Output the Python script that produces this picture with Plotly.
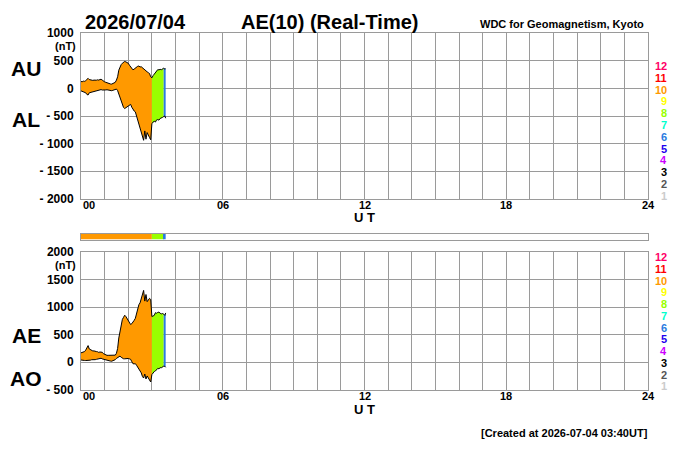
import plotly.graph_objects as go

# 3-minute samples, 00:00 to 03:33 UT, plus the last sample at 03:35
minutes = list(range(0, 214, 3)) + [215]

au = [125, 120, 132, 128, 140, 170, 182, 160, 150, 155,
      145, 150, 142, 148, 155, 150, 160, 165, 150, 130,
      118, 110, 100, 95, 90, 80, 78, 85, 95, 110,
      150, 210, 330, 400, 430, 455, 470, 488, 480, 465,
      455, 420, 395, 360, 335, 350, 372, 390, 400, 405,
      388, 392, 370, 365, 340, 310, 300, 285, 270, 210,
      190, 230, 255, 290, 320, 340, 335, 345, 338, 360,
      365, 350, 355]
al = [-45, -55, -60, -65, -80, -110, -120, -80, -75, -65,
      -60, -55, -50, -45, -35, -28, -25, -22, -30, -25,
      -22, -28, -25, -30, -35, -40, -42, -35, -25, -18,
      -12, -40, -110, -180, -250, -320, -345, -365, -350, -330,
      -320, -300, -290, -340, -390, -410, -425, -500, -570, -640,
      -690, -780, -890, -940, -770, -920, -800, -860, -890, -930,
      -640, -610, -595, -610, -570, -565, -575, -545, -540, -525,
      -510, -500, -540]

# AE = AU - AL, AO = (AU + AL) / 2
ae = [u - l for u, l in zip(au, al)]
ao = [(u + l) / 2 for u, l in zip(au, al)]

# number of stations used, by time segment (minutes)
seg_start = [0, 180, 210]
seg_end = [180, 210, 215]
seg_count = [10, 8, 6]

station_counts = [12, 11, 10, 9, 8, 7, 6, 5, 4, 3, 2, 1]
station_colors = {12: "#ff0066", 11: "#ff0000", 10: "#ff9900", 9: "#ffff00",
                  8: "#99ff00", 7: "#00ffcc", 6: "#2a7be0", 5: "#2200ee",
                  4: "#cc00ff", 3: "#000000", 2: "#555555", 1: "#cccccc"}

top_ticks = [1000, 500, 0, -500, -1000, -1500, -2000]
top_text = ["1000", "500", "0", "- 500", "- 1000", "- 1500", "- 2000"]
bot_ticks = [2000, 1500, 1000, 500, 0, -500]
bot_text = ["2000", "1500", "1000", "500", "0", "- 500"]
hour_labels = {0: "00", 6: "06", 12: "12", 18: "18", 24: "24"}

hours = [m / 60 for m in minutes]
FONT = "Liberation Sans, Arial, sans-serif"
GRID = "#9a9a9a"

fig = go.Figure()


def add_band(upper, lower, xa, ya):
    for s, e, n in zip(seg_start, seg_end, seg_count):
        idx = [i for i, m in enumerate(minutes) if s <= m <= e]
        xs = [hours[i] for i in idx]
        fig.add_trace(go.Scatter(x=xs, y=[lower[i] for i in idx], mode="lines",
                                 line=dict(width=0), xaxis=xa, yaxis=ya,
                                 showlegend=False, hoverinfo="skip"))
        fig.add_trace(go.Scatter(x=xs, y=[upper[i] for i in idx], mode="lines",
                                 line=dict(width=0), fill="tonexty",
                                 fillcolor=station_colors[n], xaxis=xa, yaxis=ya,
                                 showlegend=False, hoverinfo="skip"))
    for series in (upper, lower):
        fig.add_trace(go.Scatter(x=hours, y=series, mode="lines",
                                 line=dict(color="black", width=1), xaxis=xa, yaxis=ya,
                                 showlegend=False))


add_band(au, al, "x", "y")
add_band(ae, ao, "x2", "y2")

# station count strip
for s, e, n in zip(seg_start, seg_end, seg_count):
    fig.add_trace(go.Bar(x=[(e - s) / 60], base=[s / 60], y=[0.5], width=1,
                         orientation="h", marker=dict(color=station_colors[n], line=dict(width=0)),
                         xaxis="x3", yaxis="y3", showlegend=False))

xdom = [81 / 700, 648 / 700]
xcommon = dict(domain=xdom, range=[0, 24], tickvals=list(range(25)), ticktext=[""] * 25,
               showgrid=True, gridcolor=GRID, gridwidth=1, zeroline=False,
               showline=True, mirror=True, linecolor=GRID, ticks="", fixedrange=True)
ycommon = dict(showgrid=True, gridcolor=GRID, gridwidth=1, zeroline=False,
               showline=True, mirror=True, linecolor=GRID, ticks="",
               ticklabelstandoff=4, tickfont=dict(family=FONT, size=12, color="black"))

fig.update_layout(
    autosize=True, margin=dict(l=0, r=0, t=0, b=0),
    paper_bgcolor="white", plot_bgcolor="white", barmode="overlay",
    font=dict(family=FONT, color="black"),
    xaxis=dict(xcommon, anchor="y"),
    yaxis=dict(ycommon, domain=[1 - 198 / 450, 1 - 27 / 450], range=[-2000, 1000],
               tickvals=top_ticks, ticktext=["<b>%s</b>" % t for t in top_text], anchor="x"),
    xaxis2=dict(xcommon, anchor="y2"),
    yaxis2=dict(ycommon, domain=[1 - 395 / 450, 1 - 253 / 450], range=[-500, 2000],
                tickvals=bot_ticks, ticktext=["<b>%s</b>" % t for t in bot_text], anchor="x2"),
    xaxis3=dict(domain=xdom, range=[0, 24], showgrid=False, zeroline=False, showline=True,
                mirror=True, linecolor=GRID, showticklabels=False, ticks="", anchor="y3"),
    yaxis3=dict(domain=[1 - 240 / 450, 1 - 234 / 450], range=[0, 1], showgrid=False,
                zeroline=False, showline=True, mirror=True, linecolor=GRID,
                showticklabels=False, ticks="", anchor="x3"),
)

ann = []


def txt(x, y, s, size, xanchor="center", color="black", xref="paper"):
    ann.append(dict(x=x, y=y, xref=xref, yref="paper", text="<b>%s</b>" % s, showarrow=False,
                    xanchor=xanchor, yanchor="middle", font=dict(family=FONT, size=size, color=color)))


txt(83 / 700, 1 - 15 / 450, "2026/07/04", 20, "left")
txt(329 / 700, 1 - 15 / 450, "AE(10) (Real-Time)", 20)
txt(646 / 700, 1 - 18 / 450, "WDC for Geomagnetism, Kyoto", 11, "right")
txt(65 / 700, 1 - 40 / 450, "(nT)", 11)
txt(65 / 700, 1 - 266 / 450, "(nT)", 11)
txt(26 / 700, 1 - 63 / 450, "AU", 21)
txt(26 / 700, 1 - 116 / 450, "AL", 21)
txt(26 / 700, 1 - 339 / 450, "AE", 21)
txt(26 / 700, 1 - 383 / 450, "AO", 21)

for ypx in (204, 402):
    for h, lab in hour_labels.items():
        txt(h, 1 - ypx / 450, lab, 11, "left" if h == 0 else "center", xref="x")
    txt(12, 1 - (ypx + 13) / 450, "U T", 13, xref="x")

for top in (61, 258):
    for k, n in enumerate(station_counts):
        txt(669 / 700, 1 - (top + k * 12.15) / 450, str(n), 11, "right", station_colors[n])

txt(650 / 700, 1 - 440 / 450, "[Created at 2026-07-04 03:40UT]", 11, "right")

fig.update_layout(annotations=ann)

fig.write_html("out.html", config={"displayModeBar": False, "responsive": True},
               default_width="100vw", default_height="100vh",
               post_script="document.body.style.margin='0';document.body.style.overflow='hidden';")
